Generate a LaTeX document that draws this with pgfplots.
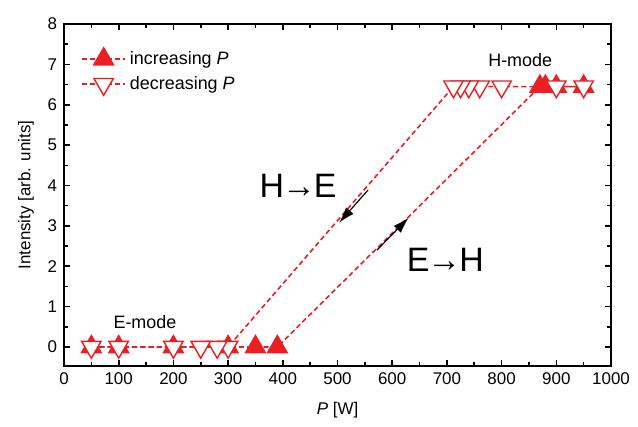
\documentclass[border=0pt]{standalone}
\usepackage{fontspec}
\setmainfont{Liberation Sans}
\usepackage{pgfplots}
\pgfplotsset{compat=1.18}
\usetikzlibrary{arrows.meta}
\definecolor{myred}{RGB}{235,30,35}
\begin{document}
\begin{tikzpicture}
\begin{axis}[
  scale only axis, width=273.5bp, height=171bp,
  xmin=0, xmax=1000, ymin=-0.47, ymax=8,
  xtick={0,100,...,1000}, ytick={0,1,...,8},
  minor x tick num=1, minor y tick num=1,
  tick align=inside,
  major tick length=3bp, minor tick length=1.8bp,
  axis line style={line width=1bp},
  every tick/.style={line width=0.8bp, black},
  tick label style={font=\fontsize{8.5}{10}\selectfont},
  /pgf/number format/assume math mode=true,
  /pgf/number format/1000 sep={},
  xlabel={\textit{P} [W]}, ylabel={Intensity [arb. units]},
  label style={font=\fontsize{8.5}{10}\selectfont},
  xlabel style={yshift=-2bp},
  legend style={at={(rel axis cs:0.02,0.945)}, anchor=north west, draw=none, fill=none,
    font=\fontsize{9}{11}\selectfont, row sep=0.5bp},
  legend cell align=left,
  legend image code/.code={\draw[mark repeat=2,mark phase=2] plot coordinates {(0cm,0cm)(0.38cm,0cm)(0.76cm,0cm)};},
  clip=false,
]
\addplot[myred, dash pattern=on 2.5bp off 1.6bp, line width=0.8bp, mark=triangle*,
  mark size=5.6bp, mark options={solid, fill=myred, draw=myred}]
  coordinates {(50,0) (100,0) (200,0) (300,0) (350,0) (390,0)
               (870,6.45) (880,6.45) (900,6.45) (950,6.45)};
\addlegendentry{increasing \textit{P}}
\addplot[myred, dash pattern=on 2.5bp off 1.6bp, line width=0.8bp, mark=triangle*,
  mark size=5.6bp, mark options={solid, rotate=180, fill=white, draw=myred, line width=0.7bp}]
  coordinates {(950,6.45) (900,6.45) (800,6.45) (760,6.45) (740,6.45) (725,6.45) (712,6.45)
               (300,0) (280,0) (250,0) (200,0) (100,0) (50,0)};
\addlegendentry{decreasing \textit{P}}
\draw[-{Latex[length=8bp,width=5bp]}, line width=0.6bp, black] (axis cs:572,2.4) -- (axis cs:630,3.2);
\draw[-{Latex[length=8bp,width=5bp]}, line width=0.6bp, black] (axis cs:556,3.89) -- (axis cs:503,3.08);
\node[font=\fontsize{17}{20}\selectfont] at (axis cs:428,4.0) {H\kern-1bp→\kern-1bp E};
\node[font=\fontsize{17}{20}\selectfont] at (axis cs:697,2.15) {E\kern-1bp→\kern-1bp H};
\node[font=\fontsize{9}{11}\selectfont] at (axis cs:148,0.62) {E-mode};
\node[font=\fontsize{9}{11}\selectfont] at (axis cs:834,7.1) {H-mode};
\end{axis}
\path (current axis.south west) +(-32bp,-30.5bp) (current axis.north east) +(13.5bp,12bp);
\end{tikzpicture}
\end{document}
